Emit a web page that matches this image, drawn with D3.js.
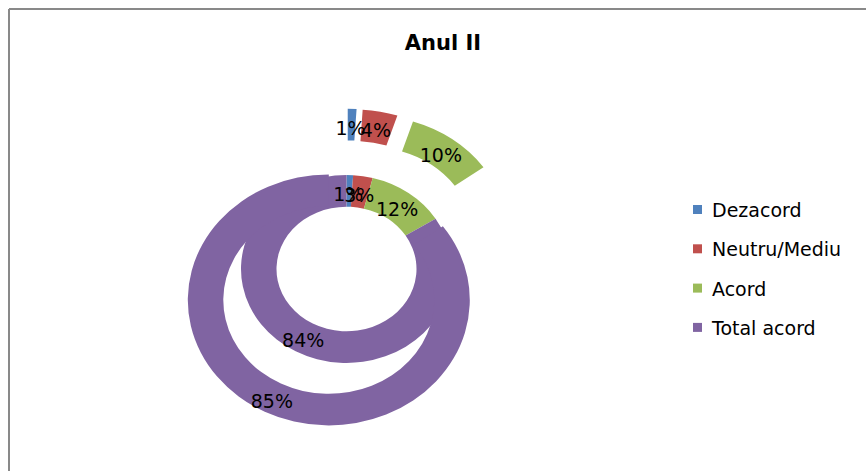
<!DOCTYPE html>
<html>
<head>
<meta charset="utf-8">
<script src="https://cdn.jsdelivr.net/npm/d3@7"></script>
<style>
  html, body { margin: 0; padding: 0; background: #fff; }
  svg { display: block; }
</style>
</head>
<body>
<svg id="chart" width="866" height="471"></svg>
<script>
const title = "Anul II";
const categories = ["Dezacord", "Neutru/Mediu", "Acord", "Total acord"];
const colors = ["#4F81BD", "#C0504D", "#9BBB59", "#8064A2"];
const innerValues = [1, 3, 12, 84];   // inner ring
const outerValues = [1, 4, 10, 85];   // outer ring (exploded)

const svg = d3.select("#chart");
const W = 866, H = 471;

// chart area border (top & left visible)
svg.append("line").attr("x1", 9).attr("y1", 9).attr("x2", W).attr("y2", 9)
  .attr("stroke", "#898989").attr("stroke-width", 2);
svg.append("line").attr("x1", 9).attr("y1", 9).attr("x2", 9).attr("y2", H)
  .attr("stroke", "#898989").attr("stroke-width", 2);

svg.append("text").attr("x", 443).attr("y", 43)
  .attr("text-anchor", "middle").attr("dominant-baseline", "central")
  .attr("font-family", "DejaVu Sans").attr("font-weight", "bold")
  .attr("font-size", 21).attr("fill", "#000").text(title);

const cx = 346.5, cy = 269, sy = 0.89;
const r0 = 70, r1 = 105.5, r2 = 141, explode = 39;

const pie = d3.pie().sort(null).value(d => d);
const arcIn = d3.arc().innerRadius(r0).outerRadius(r1);
const arcOut = d3.arc().innerRadius(r1).outerRadius(r2);

const g = svg.append("g").attr("transform", `translate(${cx},${cy}) scale(1,${sy})`);
const labels = svg.append("g");

function drawRing(values, arc, exp) {
  const arcs = pie(values);
  arcs.forEach((a, i) => {
    const mid = (a.startAngle + a.endAngle) / 2;
    const dx = Math.sin(mid) * exp, dy = -Math.cos(mid) * exp;
    g.append("path").attr("d", arc(a)).attr("fill", colors[i])
      .attr("transform", `translate(${dx},${dy})`);
    const c = arc.centroid(a);
    labels.append("text")
      .attr("x", cx + c[0] + dx - 1)
      .attr("y", cy + (c[1] + dy) * sy + 3)
      .attr("text-anchor", "middle").attr("dominant-baseline", "central")
      .attr("font-family", "DejaVu Sans").attr("font-size", 19)
      .attr("fill", "#000").text(values[i] + "%");
  });
}
drawRing(innerValues, arcIn, 0);
drawRing(outerValues, arcOut, explode);

// legend
const lg = svg.append("g");
categories.forEach((c, i) => {
  const y = 210 + i * 39.3;
  lg.append("rect").attr("x", 693).attr("y", y - 5).attr("width", 9).attr("height", 9)
    .attr("fill", colors[i]);
  lg.append("text").attr("x", 712).attr("y", y).attr("dominant-baseline", "central")
    .attr("font-family", "DejaVu Sans").attr("font-size", 19).attr("fill", "#000").text(c);
});
</script>
</body>
</html>
